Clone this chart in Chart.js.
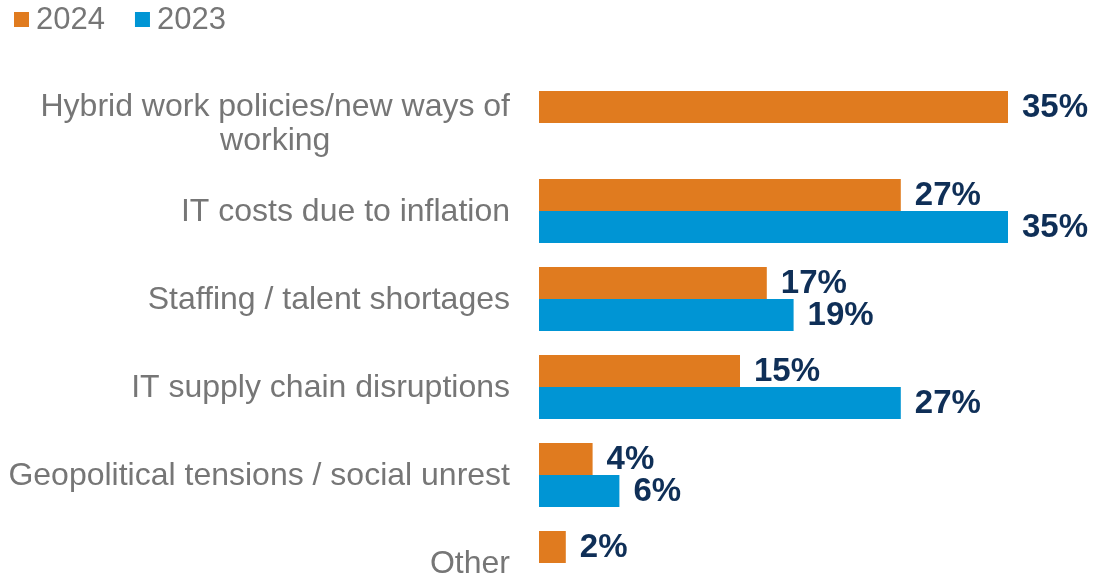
<!DOCTYPE html>
<html>
<head>
<meta charset="utf-8">
<script src="https://cdn.jsdelivr.net/npm/chart.js@4/dist/chart.umd.min.js"></script>
<style>
    html, body { margin: 0; padding: 0; background: #fff; }
    #wrap { width: 1094px; height: 577px; overflow: hidden; }
</style>
</head>
<body>
<div id="wrap">
    <canvas id="myChart" width="1094" height="620"></canvas>
</div>
<script>
// data
const categories = [
    ['Hybrid work policies/new ways of', 'working'],
    ['IT costs due to inflation'],
    ['Staffing / talent shortages'],
    ['IT supply chain disruptions'],
    ['Geopolitical tensions / social unrest'],
    ['Other']
];
const values2024 = [35, 27, 17, 15, 4, 2];
const values2023 = [null, 35, 19, 27, 6, null];
const seriesNames = ['2024', '2023'];
const seriesColors = ['#E07B1F', '#0095D4'];

const FONT = '"Liberation Sans", Arial, sans-serif';
const GREY = '#767676';
const NAVY = '#0F2F57';

// legend, category labels and value labels
const drawText = {
    id: 'drawText',
    afterDraw(chart) {
        const ctx = chart.ctx;
        ctx.save();

        // legend
        ctx.font = '31px ' + FONT;
        ctx.textBaseline = 'middle';
        ctx.textAlign = 'left';
        let lx = 14;
        chart.data.datasets.forEach(ds => {
            ctx.fillStyle = ds.backgroundColor;
            ctx.fillRect(lx, 12, 15, 15);
            ctx.fillStyle = GREY;
            ctx.fillText(ds.label, lx + 22, 20);
            lx += 22 + ctx.measureText(ds.label).width + 30;
        });

        // category labels
        ctx.font = '32px ' + FONT;
        const yScale = chart.scales.y;
        const right = chart.chartArea.left - 29;
        categories.forEach((lines, i) => {
            const cy = yScale.getPixelForValue(i);
            let w = 0;
            lines.forEach(l => { w = Math.max(w, ctx.measureText(l).width); });
            ctx.textAlign = 'center';
            const top = cy - (lines.length - 1) * 34 / 2 + 1;
            lines.forEach((l, k) => {
                ctx.fillText(l, right - w / 2, top + k * 34);
            });
        });

        // value labels
        ctx.font = 'bold 33px ' + FONT;
        ctx.fillStyle = NAVY;
        ctx.textAlign = 'left';
        chart.data.datasets.forEach((ds, d) => {
            const meta = chart.getDatasetMeta(d);
            meta.data.forEach((bar, i) => {
                if (ds.data[i] == null) return;
                ctx.fillText(ds.data[i] + '%', bar.x + 14, bar.y + 1);
            });
        });

        ctx.restore();
    }
};

const ctx = document.getElementById('myChart').getContext('2d');
const myChart = new Chart(ctx, {
    type: 'bar',
    data: {
        labels: categories,
        datasets: [{
            label: seriesNames[0],
            data: values2024,
            backgroundColor: seriesColors[0]
        }, {
            label: seriesNames[1],
            data: values2023,
            backgroundColor: seriesColors[1]
        }]
    },
    options: {
        indexAxis: 'y',
        responsive: false,
        animation: false,
        categoryPercentage: 0.727,
        barPercentage: 1,
        layout: {
            padding: { top: 79, bottom: 13, right: 19, left: 0 }
        },
        plugins: {
            legend: { display: false },
            tooltip: { enabled: false }
        },
        scales: {
            x: {
                display: false,
                min: 0,
                max: 40
            },
            y: {
                grid: { display: false },
                border: { display: false },
                ticks: { display: false },
                afterFit: function (scale) {
                    scale.width = 539;
                }
            }
        }
    },
    plugins: [drawText]
});
</script>
</body>
</html>
